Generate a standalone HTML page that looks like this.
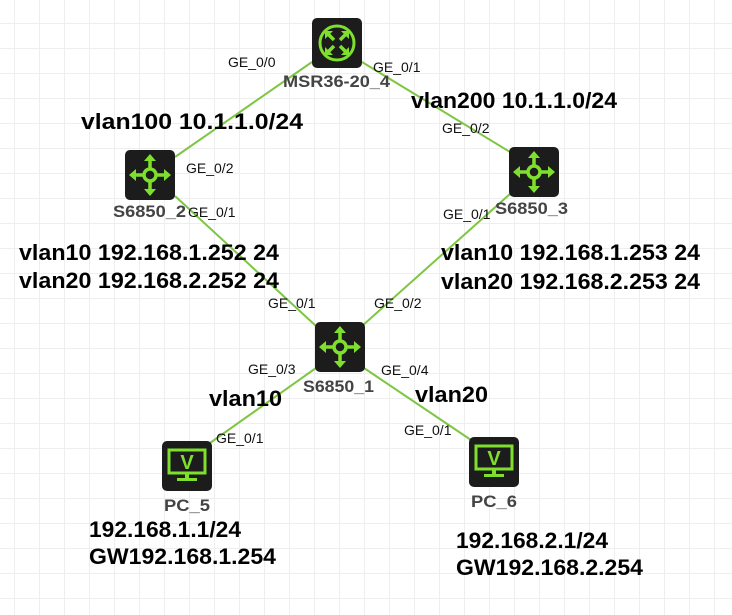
<!DOCTYPE html>
<html><head><meta charset="utf-8"><style>
html,body{margin:0;padding:0;background:#fff;}
svg{display:block;}
.s{font-family:"Liberation Sans",sans-serif;font-size:14px;fill:#111;}
.n{font-family:"Liberation Sans",sans-serif;font-size:17px;font-weight:bold;fill:#444;}
.b{font-family:"Liberation Sans",sans-serif;font-size:22px;font-weight:bold;fill:#000;}
</style></head><body>
<svg width="732" height="615" viewBox="0 0 732 615" xmlns="http://www.w3.org/2000/svg">
<defs>
<pattern id="g" x="14" y="23" width="25" height="25" patternUnits="userSpaceOnUse">
<rect x="-1" y="0" width="2" height="25" fill="#eeeeee"/>
<rect x="0" y="-1" width="25" height="2" fill="#eeeeee"/>
</pattern>
<g id="sw">
<rect x="-25" y="-25" width="50" height="50" rx="5" fill="#1c1c1c"/>
<circle r="6" fill="none" stroke="#7ee02c" stroke-width="3.5"/>
<path d="M0-6V-17M0 6V17M-6 0H-17M6 0H17" stroke="#7ee02c" stroke-width="3.5"/>
<path d="M0-21L-6-14H6ZM0 21L-6 14H6ZM-21 0L-14-6V6ZM21 0L14-6V6Z" fill="#7ee02c"/>
</g>
<g id="pc">
<rect x="-25" y="-25" width="50" height="50" rx="5" fill="#1c1c1c"/>
<rect x="-18" y="-16" width="36" height="23" fill="none" stroke="#7ee02c" stroke-width="3"/>
<text x="0" y="3" text-anchor="middle" font-family="Liberation Sans" font-weight="bold" font-size="20" fill="#7ee02c">V</text>
<path d="M-2 8h4v4h-4z M-10 12h20v3h-20z" fill="#7ee02c"/>
</g>
</defs>
<rect width="732" height="615" fill="url(#g)"/>
<g stroke="#7dc641" stroke-width="2">
<line x1="312" y1="62" x2="175" y2="157"/>
<line x1="362" y1="62" x2="510" y2="152"/>
<line x1="175" y1="196" x2="316" y2="326"/>
<line x1="510" y1="194" x2="362" y2="326"/>
<line x1="316" y1="368" x2="210" y2="443"/>
<line x1="364" y1="368" x2="471" y2="440"/>
</g>
<g transform="translate(337,43)">
<rect x="-25" y="-25" width="50" height="50" rx="5" fill="#1c1c1c"/>
<circle r="17" fill="none" stroke="#7ee02c" stroke-width="3"/>
<path d="M-10-10L-3-3M10-10L3-3M-10 10L-3 3M10 10L3 3" stroke="#7ee02c" stroke-width="3.5"/>
<path d="M-12-12h8l-8 8zM12-12h-8l8 8zM-12 12h8l-8-8zM12 12h-8l8-8z" fill="#7ee02c"/>
</g>
<use href="#sw" x="150" y="175"/>
<use href="#sw" x="534" y="172"/>
<use href="#sw" x="340" y="347"/>
<use href="#pc" x="187" y="466"/>
<use href="#pc" x="494" y="462"/>
<text class="n" x="283" y="87" textLength="107" lengthAdjust="spacingAndGlyphs">MSR36-20_4</text>
<text class="n" x="113" y="217" textLength="73" lengthAdjust="spacingAndGlyphs">S6850_2</text>
<text class="n" x="495" y="214" textLength="73" lengthAdjust="spacingAndGlyphs">S6850_3</text>
<text class="n" x="303" y="392" textLength="71" lengthAdjust="spacingAndGlyphs">S6850_1</text>
<text class="n" x="164" y="511" textLength="46" lengthAdjust="spacingAndGlyphs">PC_5</text>
<text class="n" x="471" y="507" textLength="46" lengthAdjust="spacingAndGlyphs">PC_6</text>
<text class="s" x="228" y="67">GE_0/0</text>
<text class="s" x="373" y="72">GE_0/1</text>
<text class="s" x="186" y="173">GE_0/2</text>
<text class="s" x="188" y="217">GE_0/1</text>
<text class="s" x="442" y="133">GE_0/2</text>
<text class="s" x="443" y="219">GE_0/1</text>
<text class="s" x="268" y="308">GE_0/1</text>
<text class="s" x="374" y="308">GE_0/2</text>
<text class="s" x="248" y="374">GE_0/3</text>
<text class="s" x="381" y="375">GE_0/4</text>
<text class="s" x="216" y="443">GE_0/1</text>
<text class="s" x="404" y="435">GE_0/1</text>
<text class="b" x="81" y="129" textLength="222" lengthAdjust="spacingAndGlyphs">vlan100 10.1.1.0/24</text>
<text class="b" x="411" y="108" textLength="206" lengthAdjust="spacingAndGlyphs">vlan200 10.1.1.0/24</text>
<text class="b" x="19" y="260" textLength="260" lengthAdjust="spacingAndGlyphs">vlan10 192.168.1.252 24</text>
<text class="b" x="19" y="288" textLength="260" lengthAdjust="spacingAndGlyphs">vlan20 192.168.2.252 24</text>
<text class="b" x="441" y="260" textLength="259" lengthAdjust="spacingAndGlyphs">vlan10 192.168.1.253 24</text>
<text class="b" x="441" y="289" textLength="259" lengthAdjust="spacingAndGlyphs">vlan20 192.168.2.253 24</text>
<text class="b" x="209" y="406" textLength="73" lengthAdjust="spacingAndGlyphs">vlan10</text>
<text class="b" x="415" y="402" textLength="73" lengthAdjust="spacingAndGlyphs">vlan20</text>
<text class="b" x="89" y="537" textLength="152" lengthAdjust="spacingAndGlyphs">192.168.1.1/24</text>
<text class="b" x="89" y="564" textLength="187" lengthAdjust="spacingAndGlyphs">GW192.168.1.254</text>
<text class="b" x="456" y="548" textLength="152" lengthAdjust="spacingAndGlyphs">192.168.2.1/24</text>
<text class="b" x="456" y="575" textLength="187" lengthAdjust="spacingAndGlyphs">GW192.168.2.254</text>
</svg>
</body></html>
